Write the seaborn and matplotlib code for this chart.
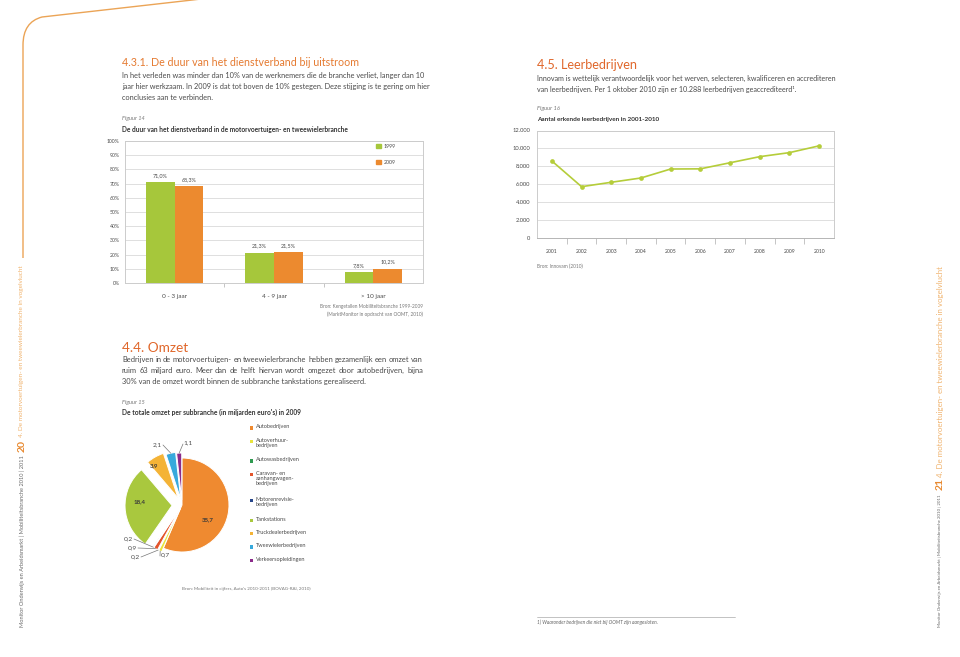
import matplotlib
matplotlib.use('Agg')
import matplotlib.pyplot as plt
import numpy as np
import pandas as pd
import seaborn as sns
from matplotlib.patches import Rectangle, PathPatch
from matplotlib.lines import Line2D
from matplotlib.path import Path

W, H = 960, 657

# ---------------- data ----------------
duration_categories = ['0 - 3 jaar', '4 - 9 jaar', '> 10 jaar']
duration_years = ['1999', '2009']
duration_1999 = [71.0, 21.3, 7.8]
duration_2009 = [68.3, 21.5, 10.2]
duration_ticks = [0, 10, 20, 30, 40, 50, 60, 70, 80, 90, 100]

omzet_branches = ['Autobedrijven', 'Autoverhuur-\nbedrijven', 'Autowasbedrijven',
                  'Caravan- en\naanhangwagen-\nbedrijven', 'Motorenrevisie-\nbedrijven',
                  'Tankstations', 'Truckdealerbedrijven', 'Tweewielerbedrijven',
                  'Verkeersopleidingen']
omzet_values = [35.7, 0.7, 0.2, 0.9, 0.2, 18.4, 3.9, 2.1, 1.1]

leer_years = [2001, 2002, 2003, 2004, 2005, 2006, 2007, 2008, 2009, 2010]
leer_counts = [8600, 5730, 6220, 6700, 7700, 7720, 8400, 9080, 9530, 10288]
leer_ticks = [0, 2000, 4000, 6000, 8000, 10000, 12000]

# ---------------- styles ----------------
TXT = '#4a4a4a'
ORANGE_T = '#e57a30'
ORANGE_T2 = '#e0672b'
GREEN = '#a6c73b'
ORANGE = '#ec8a2f'
LIME = '#b5cd3a'
GRID = '#dedede'
FRAME = '#cccccc'
PIE_COLORS = ['#ef8a30', '#e9e43c', '#2f9a50', '#e3552c', '#27468a',
              '#a9c83e', '#f4b336', '#37a9dc', '#8b2b8a']
EXPLODE_PX = [0.0, 4.0, 4.0, 4.0, 4.0, 10.0, 8.0, 6.0, 5.0]

sns.set_theme(style='white')
plt.rcParams['font.family'] = ['Lato', 'DejaVu Sans']

fig = plt.figure(figsize=(W / 100, H / 100), dpi=100)
fig.patch.set_facecolor('white')
R = fig.canvas.get_renderer()


def fx(x):
    return x / W


def fy(y):
    return 1 - y / H


def width_of(s, size, **kw):
    t = fig.text(0, 0, s, fontsize=size, **kw)
    w = t.get_window_extent(renderer=R).width
    t.remove()
    return w


def fit(s, px, **kw):
    return 10.0 * px / width_of(s, 10.0, **kw)


def put(x, y, s, size, **kw):
    kw.setdefault('va', 'center_baseline')
    return fig.text(fx(x), fy(y), s, fontsize=size, **kw)


def justify(x, y, line, px, size, **kw):
    words = line.split(' ')
    ws = [width_of(w, size, **kw) for w in words]
    gap = (px - sum(ws)) / (len(words) - 1)
    cx = x
    for w, wd in zip(words, ws):
        put(cx, y, w, size, **kw)
        cx += wd + gap


# ---------------- decorative line ----------------
verts = [(23, 258), (23, 45), (23, 22), (42, 17), (210, -2)]
codes = [Path.MOVETO, Path.LINETO, Path.CURVE3, Path.CURVE3, Path.LINETO]
fig.add_artist(PathPatch(Path([(fx(a), fy(b)) for a, b in verts], codes),
                         transform=fig.transFigure, fill=False,
                         ec='#eba456', lw=1.0))

# ---------------- side texts ----------------
side_grey = 'Monitor Onderwijs en Arbeidsmarkt | Mobiliteitsbranche 2010 | 2011'
side_or = '4. De motorvoertuigen- en tweewielerbranche in vogelvlucht'
for (xc, g0, g1, num, ny, o0, o1) in [(22, 627, 453, '20', 446, 437, 266),
                                       (940, 627, 491, '21', 484, 477, 267)]:
    s1 = fit(side_grey, g0 - g1)
    put(xc, g0, side_grey, s1, rotation=90, ha='center', va='bottom', color='#6a6a6a')
    put(xc, ny, num, 7.5, rotation=90, ha='center', va='center', color='#e8892f',
        fontweight='bold')
    s3 = fit(side_or, o0 - o1)
    put(xc, o0, side_or, s3, rotation=90, ha='center', va='bottom', color='#f0b36e')

# ---------------- left page texts ----------------
t431 = '4.3.1. De duur van het dienstverband bij uitstroom'
put(122, 62, t431, fit(t431, 235), color=ORANGE_T)
p431 = ['In het verleden was minder dan 10% van de werknemers die de branche verliet, langer dan 10',
        'jaar hier werkzaam. In 2009 is dat tot boven de 10% gestegen. Deze stijging is te gering om hier',
        'conclusies aan te verbinden.']
sp = fit(p431[0], 301)
for i, line in enumerate(p431):
    put(122, 75 + 11 * i, line, sp, color=TXT)
put(122, 118, 'Figuur 14', fit('Figuur 14', 23, style='italic'), style='italic', color='#777777')
c14 = 'De duur van het dienstverband in de motorvoertuigen- en tweewielerbranche'
put(122, 129, c14, fit(c14, 226, fontweight='bold'), fontweight='bold', color='#333333')

b1 = 'Bron: Kengetallen Mobiliteitsbranche 1999-2009'
b2 = '(MarktMonitor in opdracht van OOMT, 2010)'
bs = fit(b1, 103)
put(423, 306, b1, bs, ha='right', color='#777777')
put(423, 314, b2, bs, ha='right', color='#777777')

t44 = '4.4. Omzet'
put(122, 347, t44, fit(t44, 66), color=ORANGE_T2)
p44 = ['Bedrijven in de motorvoertuigen- en tweewielerbranche hebben gezamenlijk een omzet van',
       'ruim 63 miljard euro. Meer dan de helft hiervan wordt omgezet door autobedrijven, bijna',
       '30% van de omzet wordt binnen de subbranche tankstations gerealiseerd.']
sp44 = fit(p44[0], 301)
justify(122, 359, p44[0], 301, sp44, color=TXT)
justify(122, 370, p44[1], 301, sp44, color=TXT)
put(122, 381, p44[2], sp44, color=TXT)
put(122, 402, 'Figuur 15', fit('Figuur 15', 23, style='italic'), style='italic', color='#777777')
c15 = "De totale omzet per subbranche (in miljarden euro's) in 2009"
put(122, 412, c15, fit(c15, 179, fontweight='bold'), fontweight='bold', color='#333333')
b15 = "Bron: Mobiliteit in cijfers, Auto's 2010-2011 (BOVAG-RAI, 2010)"
put(182, 588, b15, fit(b15, 127), color='#777777')

# ---------------- right page texts ----------------
t45 = '4.5. Leerbedrijven'
put(537, 64, t45, fit(t45, 100), color=ORANGE_T2)
p45 = ['Innovam is wettelijk verantwoordelijk voor het werven, selecteren, kwalificeren en accrediteren',
       'van leerbedrijven. Per 1 oktober 2010 zijn er 10.288 leerbedrijven geaccrediteerd\u00b9.']
sp45 = fit(p45[0], 297)
put(537, 78, p45[0], sp45, color=TXT)
put(537, 89, p45[1], sp45, color=TXT)
put(537, 108, 'Figuur 16', fit('Figuur 16', 23, style='italic'), style='italic', color='#777777')
c16 = 'Aantal erkende leerbedrijven in 2001-2010'
put(537, 119, c16, fit(c16, 122, fontweight='bold'), fontweight='bold', color='#333333')
put(537, 266, 'Bron: Innovam (2010)', fit('Bron: Innovam (2010)', 45), color='#777777')
fig.add_artist(Line2D([fx(537), fx(735)], [fy(617), fy(617)], color='#aaaaaa', lw=0.5))
fn = '1) Waaronder bedrijven die niet bij OOMT zijn aangesloten.'
put(537, 622, fn, fit(fn, 121, style='italic'), style='italic', color='#666666')

# ---------------- bar chart ----------------
axb = fig.add_axes([fx(125), fy(283), 298 / W, 142 / H])
df_dur = pd.DataFrame({
    'Duur': duration_categories * 2,
    'Jaar': [duration_years[0]] * len(duration_categories) + [duration_years[1]] * len(duration_categories),
    'Aandeel': duration_1999 + duration_2009,
})
sns.barplot(data=df_dur, x='Duur', y='Aandeel', hue='Jaar', palette=[GREEN, ORANGE],
            saturation=1, width=0.58, gap=0, errorbar=None, legend=False,
            edgecolor='none', linewidth=0, ax=axb)
axb.set_xlim(-0.5, 2.5)
axb.set_ylim(0, 100)
axb.set_yticks(duration_ticks)
axb.set_yticklabels([f'{t}%' for t in duration_ticks])
axb.set_xlabel('')
axb.set_ylabel('')
axb.grid(axis='y', color=GRID, lw=0.7)
axb.set_axisbelow(True)
ys = fit('100%', 13)
xs = fit('0 - 3 jaar', 25)
axb.tick_params(axis='y', length=0, pad=4, labelsize=ys, labelcolor=TXT)
axb.tick_params(axis='x', which='major', length=0, pad=8, labelsize=xs, labelcolor=TXT)
axb.set_xticks([0.5, 1.5], minor=True)
axb.tick_params(axis='x', which='minor', bottom=True, length=3, width=0.6, color='#bbbbbb')
for s in axb.spines.values():
    s.set_color(FRAME)
    s.set_linewidth(0.7)
vs = fit('71,0%', 15)
for cont, vals in zip(axb.containers, [duration_1999, duration_2009]):
    axb.bar_label(cont, labels=[f'{v:.1f}%'.replace('.', ',') for v in vals],
                  padding=3, fontsize=vs, color=TXT)
handles = [Rectangle((0, 0), 1, 1, color=c) for c in [GREEN, ORANGE]]
axb.legend(handles, duration_years, loc='upper left',
           bbox_to_anchor=((376 - 125) / 298, (283 - 144) / 142), frameon=False,
           fontsize=fit('1999', 12), handlelength=0.9, handleheight=0.9,
           handletextpad=0.5, labelspacing=2.1, borderpad=0, borderaxespad=0,
           labelcolor=TXT)

# ---------------- line chart ----------------
axl = fig.add_axes([fx(537), fy(238), 297 / W, 107.5 / H])
sns.lineplot(x=leer_years, y=leer_counts, ax=axl, color=LIME, lw=1.2,
             marker='o', markersize=3.4, markeredgewidth=0)
axl.set_xlim(leer_years[0] - 0.5, leer_years[-1] + 0.5)
axl.set_ylim(leer_ticks[0], leer_ticks[-1])
axl.set_xticks(leer_years)
axl.set_xticklabels([str(y) for y in leer_years])
axl.set_yticks(leer_ticks)
axl.set_yticklabels([f'{t:,}'.replace(',', '.') for t in leer_ticks])
axl.grid(axis='y', color=GRID, lw=0.7)
axl.set_axisbelow(True)
axl.tick_params(axis='y', length=0, pad=5, labelsize=fit('12.000', 18), labelcolor=TXT)
axl.tick_params(axis='x', which='major', length=0, pad=8, labelsize=fit('2001', 12), labelcolor=TXT)
axl.set_xticks([(a + b) / 2 for a, b in zip(leer_years[:-1], leer_years[1:])], minor=True)
axl.tick_params(axis='x', which='minor', bottom=True, length=4, width=0.6, color='#bbbbbb')
for s in axl.spines.values():
    s.set_color(FRAME)
    s.set_linewidth(0.7)
axl.spines['bottom'].set_color('#b5b5b5')

# ---------------- pie chart ----------------
axp = fig.add_axes([fx(100), fy(600), 150 / W, 180 / H])
wedges, _ = axp.pie(omzet_values, colors=PIE_COLORS, startangle=90, counterclock=False,
                    center=(182, H - 505), radius=47, explode=EXPLODE_PX, frame=True,
                    wedgeprops=dict(edgecolor='white', linewidth=0.7))
axp.set_xlim(100, 250)
axp.set_ylim(H - 600, H - 420)
axp.axis('off')


def fmt(v):
    return f'{v:.1f}'.replace('.', ',')


ps = fit('35,7', 12, fontweight='bold')
PIE_INSIDE = {0: (208, 520), 5: (140, 502), 6: (154, 466)}
for i, (px, py) in PIE_INSIDE.items():
    axp.text(px, H - py, fmt(omzet_values[i]), fontsize=ps, fontweight='bold',
             color='#3a3a3a', ha='center', va='center')
# label centre, leader line start
PIE_OUTSIDE = {7: ((157, 445), (163, 445)), 8: ((188, 443), (183, 444)),
               4: ((128, 539), (134, 539)), 3: ((132, 548), (138, 548)),
               2: ((135, 557), (141, 557)), 1: ((165, 555), (160, 556))}
os_ = fit('0,2', 9)
for i, ((lx, ly), (sx, sy)) in PIE_OUTSIDE.items():
    w = wedges[i]
    th = np.radians((w.theta1 + w.theta2) / 2)
    ex = w.center[0] + w.r * np.cos(th)
    ey = w.center[1] + w.r * np.sin(th)
    axp.text(lx, H - ly, fmt(omzet_values[i]), fontsize=os_, color=TXT,
             ha='center', va='center')
    axp.plot([sx, ex], [H - sy, ey], color='#777777', lw=0.5)

# pie legend
ls = fit('Truckdealerbedrijven', 52)
yy = 428
for lab, col in zip(omzet_branches, PIE_COLORS):
    n = lab.count('\n') + 1
    fig.add_artist(Rectangle((fx(250), fy(yy + 1.7)), 3.4 / W, 3.4 / H,
                             transform=fig.transFigure, color=col, lw=0))
    put(256, yy - 3.6, lab, ls, va='top', color=TXT, linespacing=1.0)
    yy += 13.4 + 6.3 * (n - 1)

fig.savefig('out.png', dpi=100, facecolor='white')
